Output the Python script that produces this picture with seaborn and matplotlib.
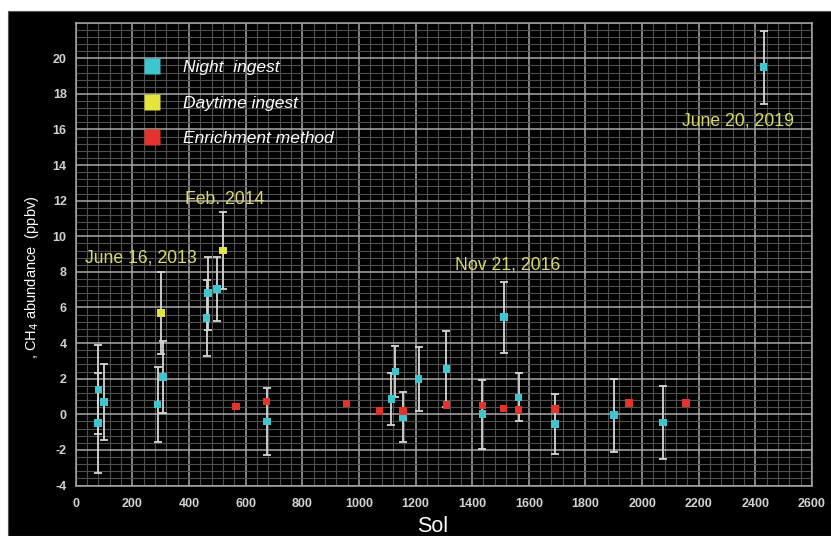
import matplotlib
matplotlib.use("Agg")
import matplotlib.pyplot as plt
from matplotlib.lines import Line2D
from matplotlib.patches import Rectangle
from matplotlib.ticker import MultipleLocator, FuncFormatter
import seaborn as sns
import pandas as pd

# Night-time ingest measurements (sol, ppbv, 1-sigma)
night_sol = [78, 80, 101, 289, 309, 462, 468, 499, 676, 1115, 1129, 1156,
             1211, 1309, 1436, 1513, 1564, 1692, 1900, 2073, 2429]
night_val = [-0.5, 1.4, 0.7, 0.55, 2.1, 5.4, 6.8, 7.05, -0.4, 0.85, 2.4, -0.15,
             2.0, 2.55, 0.0, 5.45, 0.95, -0.55, -0.05, -0.45, 19.5]
night_err = [2.8, 2.5, 2.15, 2.1, 2.0, 2.15, 2.05, 1.8, 1.9, 1.45, 1.45, 1.4,
             1.8, 2.15, 1.95, 2.0, 1.35, 1.7, 2.05, 2.05, 2.05]

# Daytime ingest measurements
day_sol = [301, 521]
day_val = [5.7, 9.2]
day_err = [2.3, 2.15]

# Enrichment-method measurements
enrich_sol = [565, 674, 956, 1073, 1156, 1309, 1436, 1511, 1564, 1692, 1953, 2155]
enrich_val = [0.43, 0.71, 0.6, 0.2, 0.2, 0.52, 0.5, 0.32, 0.24, 0.3, 0.62, 0.62]
enrich_err = [0.0] * len(enrich_sol)

methods = ["Night  ingest", "Daytime ingest", "Enrichment method"]
colors = ["#3ec6cf", "#e4e43c", "#e4332b"]

# Dated events
event_labels = ["June 16, 2013", "Feb. 2014", "Nov 21, 2016", "June 20, 2019"]
event_sol = [33, 386, 1338, 2141]
event_val = [8.5, 11.8, 8.15, 16.2]

df = pd.concat([
    pd.DataFrame({"sol": night_sol, "ch4": night_val, "err": night_err, "method": methods[0]}),
    pd.DataFrame({"sol": day_sol, "ch4": day_val, "err": day_err, "method": methods[1]}),
    pd.DataFrame({"sol": enrich_sol, "ch4": enrich_val, "err": enrich_err, "method": methods[2]}),
], ignore_index=True)

sns.set_theme(style="dark")
plt.rcParams["font.family"] = ["Liberation Sans", "DejaVu Sans"]

fig = plt.figure(figsize=(8.31, 5.36), dpi=100, facecolor="white")
# black panel behind the chart
fig.patches.append(Rectangle((8 / 831, 0), 1, 1 - 11 / 536, transform=fig.transFigure,
                             facecolor="black", edgecolor="#555555", lw=0.8, zorder=-10))

ax = fig.add_axes([75.7 / 831, 1 - 485.5 / 536, (812 - 75.7) / 831, (485.5 - 22.7) / 536])
ax.set_facecolor("black")

ax.set_xlim(0, 2600)
ax.set_ylim(-4, 22)
ax.xaxis.set_major_locator(MultipleLocator(200))
ax.xaxis.set_minor_locator(MultipleLocator(40))
ax.yaxis.set_major_locator(MultipleLocator(2))
ax.yaxis.set_minor_locator(MultipleLocator(0.4))
ax.grid(which="major", color="#a9a9a9", lw=1.1, zorder=0)
ax.grid(which="minor", color="#4f4f4f", lw=0.8, zorder=0)
ax.set_axisbelow(True)
for s in ax.spines.values():
    s.set_color("#a9a9a9")
    s.set_linewidth(1.1)

# error bars for ingest measurements
bars = df[df["err"] > 0]
ax.errorbar(bars["sol"], bars["ch4"], yerr=bars["err"], fmt="none",
            ecolor="#d6d6d6", elinewidth=1.3, capsize=2.8, capthick=1.3, zorder=2)

sns.scatterplot(data=df, x="sol", y="ch4", hue="method", hue_order=methods,
                palette=colors, marker="s", s=30, linewidth=0, legend=False,
                ax=ax, zorder=3)

ax.set_yticks(range(-4, 21, 2))
ax.yaxis.set_major_formatter(FuncFormatter(lambda v, p: f"{v:g}"))
ax.tick_params(axis="both", which="both", length=0, colors="#d2d2d2")
ax.tick_params(axis="x", pad=9)
ax.tick_params(axis="y", pad=6.5)
for lab in ax.get_xticklabels() + ax.get_yticklabels():
    lab.set_fontweight("bold")
    lab.set_fontsize(9)

ax.set_xlabel("Sol", fontsize=15.5, color="white", x=0.485, labelpad=4)
ax.set_ylabel(", CH$_4$ abundance  (ppbv)", fontsize=10.5, color="white", labelpad=6)
ax.yaxis.set_label_coords(-0.047, 0.45)

for lab, xs, yv in zip(event_labels, event_sol, event_val):
    ax.text(xs, yv, lab, color="#d9d96c", fontsize=12.7, ha="left", va="baseline", zorder=4)

handles = [Line2D([0], [0], marker="s", linestyle="none", markersize=11.5,
                  markerfacecolor=c, markeredgecolor="none") for c in colors]
leg = ax.legend(handles, methods, loc="upper left", bbox_to_anchor=(0.092, 0.919),
                frameon=False, borderpad=0, borderaxespad=0, handlelength=1.0,
                handletextpad=1.25, labelspacing=1.16, fontsize=12.5)
for t in leg.get_texts():
    t.set_color("white")
    t.set_fontstyle("italic")

fig.savefig("out.png", dpi=100, facecolor="white")
